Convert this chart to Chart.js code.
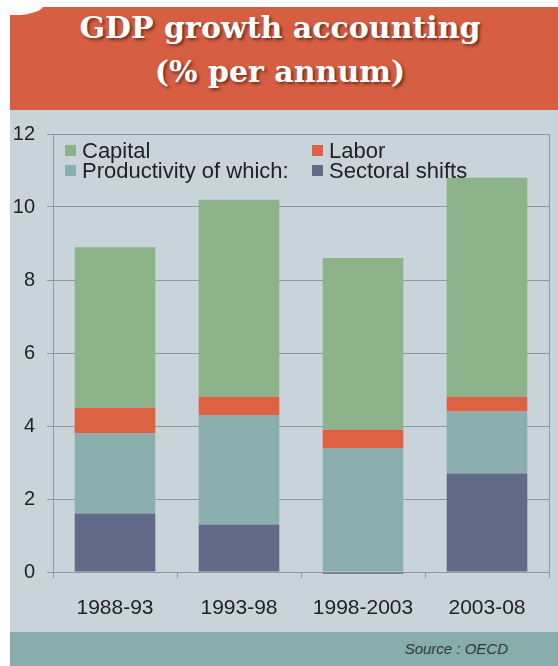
<!DOCTYPE html>
<html>
<head>
<meta charset="utf-8">
<script src="https://cdn.jsdelivr.net/npm/chart.js@4/dist/chart.umd.min.js"></script>
<style>
  html, body { margin: 0; padding: 0; background: #ffffff; width: 558px; height: 666px; overflow: hidden; }
  #wrap { position: absolute; left: 10px; top: 7px; width: 548px; height: 659px; overflow: hidden; }
  #banner { position: relative; height: 103px; background: #D65E42; overflow: hidden; }
  #banner .corner { position: absolute; left: -22px; top: -14px; width: 56px; height: 22px; border-radius: 50%;
    background: #ffffff; }
  #banner .line { position: absolute; left: 0; width: 540px; text-align: center; color: #ffffff;
    font-family: "DejaVu Serif", "Liberation Serif", serif; font-weight: bold; font-size: 30px;
    line-height: 36px; text-shadow: 2px 2px 3px rgba(60, 20, 10, 0.65); white-space: nowrap; }
  #plot { position: relative; height: 522px; background: #C8D4DA; }
  #foot { position: relative; height: 34px; background: #88ACAA; }
  #foot span { position: absolute; right: 50px; top: 8px; font-family: "Liberation Sans", Arial, sans-serif;
    font-style: italic; font-size: 15px; color: #2e3a3a; }
  canvas { display: block; }
</style>
</head>
<body>
<div id="wrap">
  <div id="banner">
    <div class="corner"></div>
    <div class="line" style="top:3px">GDP growth accounting</div>
    <div class="line" style="top:47px">(% per annum)</div>
  </div>
  <div id="plot"><canvas id="chart" width="548" height="522"></canvas></div>
  <div id="foot"><span>Source : OECD</span></div>
</div>
<script>
// Periods and growth contributions (percentage points per annum)
const periods = ["1988-93", "1993-98", "1998-2003", "2003-08"];
const sectoralShifts = [1.6, 1.3, -0.05, 2.7];
const productivityOther = [2.2, 3.0, 3.4, 1.7];
const labor = [0.7, 0.5, 0.5, 0.4];
const capital = [4.4, 5.4, 4.7, 6.0];
const yTicks = [0, 2, 4, 6, 8, 10, 12];

const colors = {
  capital: "#8DB38B",
  labor: "#DD6243",
  productivity: "#8AAFAD",
  sectoral: "#636A87"
};
const gridColor = "#8E989D";
const textColor = "#222222";
const sans = "'Liberation Sans', Arial, sans-serif";

// Two-column legend drawn inside the plot area, over the bars
const legendItems = [
  { label: "Capital", color: colors.capital, col: 0, row: 0 },
  { label: "Labor", color: colors.labor, col: 1, row: 0 },
  { label: "Productivity of which:", color: colors.productivity, col: 0, row: 1 },
  { label: "Sectoral shifts", color: colors.sectoral, col: 1, row: 1 }
];

const insideLegend = {
  id: "insideLegend",
  afterDatasetsDraw(chart) {
    const { ctx, chartArea } = chart;
    const colX = [chartArea.left + 12, chartArea.left + 259];
    const baseY = [chartArea.top + 24, chartArea.top + 44];
    ctx.save();
    ctx.font = "22px " + sans;
    ctx.textBaseline = "alphabetic";
    ctx.textAlign = "left";
    legendItems.forEach(it => {
      const x = colX[it.col], y = baseY[it.row];
      ctx.fillStyle = it.color;
      ctx.fillRect(x, y - 13, 11, 11);
      ctx.fillStyle = textColor;
      ctx.fillText(it.label, x + 17, y);
    });
    ctx.restore();
  }
};

// Right edge of the plot frame
const frameRight = {
  id: "frameRight",
  beforeDatasetsDraw(chart) {
    const { ctx, chartArea } = chart;
    ctx.save();
    ctx.strokeStyle = gridColor;
    ctx.lineWidth = 1;
    const x = Math.round(chartArea.right) + 0.5;
    ctx.beginPath();
    ctx.moveTo(x, chartArea.top);
    ctx.lineTo(x, chartArea.bottom + 6);
    ctx.stroke();
    ctx.restore();
  }
};

const barOpts = { categoryPercentage: 1.0, barPercentage: 0.65, borderWidth: 0, clip: false };

new Chart(document.getElementById("chart"), {
  type: "bar",
  data: {
    labels: periods,
    datasets: [
      { label: "Sectoral shifts", data: sectoralShifts, backgroundColor: colors.sectoral, ...barOpts },
      { label: "Productivity", data: productivityOther, backgroundColor: colors.productivity, ...barOpts },
      { label: "Labor", data: labor, backgroundColor: colors.labor, ...barOpts },
      { label: "Capital", data: capital, backgroundColor: colors.capital, ...barOpts }
    ]
  },
  options: {
    responsive: false,
    animation: false,
    events: [],
    layout: { padding: { top: 19, right: 9, left: 0, bottom: 0 } },
    plugins: { legend: { display: false }, tooltip: { enabled: false } },
    scales: {
      x: {
        stacked: true,
        grid: { offset: true, drawOnChartArea: false, drawTicks: true, tickLength: 6, tickColor: gridColor },
        border: { color: gridColor, width: 1 },
        ticks: { color: textColor, font: { family: sans, size: 21 }, padding: 18, maxRotation: 0 },
        afterFit(s) { s.height = 60; }
      },
      y: {
        stacked: true,
        min: yTicks[0],
        max: yTicks[yTicks.length - 1],
        afterBuildTicks(s) { s.ticks = yTicks.map(v => ({ value: v })); },
        grid: { color: gridColor, lineWidth: 1, tickLength: 6, tickColor: gridColor },
        border: { color: gridColor, width: 1 },
        ticks: { color: textColor, font: { family: sans, size: 20 }, padding: 12 },
        afterFit(s) { s.width = 43; }
      }
    }
  },
  plugins: [frameRight, insideLegend]
});
</script>
</body>
</html>
